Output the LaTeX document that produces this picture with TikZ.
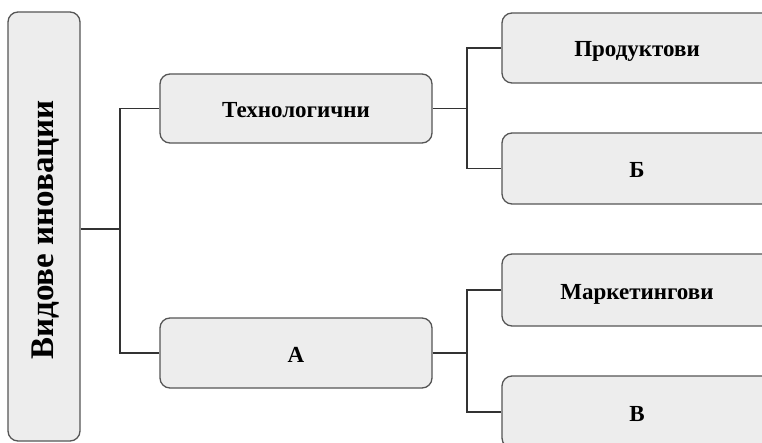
\documentclass[tikz,border=0pt]{standalone}
\usepackage{fontspec}
\setmainfont{Liberation Serif}
\begin{document}
\begin{tikzpicture}[x=1pt,y=-1pt,
  box/.style={draw=boxline, fill=boxfill, line width=1.3pt, rounded corners=10pt, inner sep=0pt, text height=18pt, text depth=0pt, font=\bfseries\fontsize{23}{26}\selectfont},
  conn/.style={draw=connline, line width=1.2pt}]
\definecolor{boxfill}{HTML}{EDEDED}
\definecolor{boxline}{HTML}{555555}
\definecolor{connline}{HTML}{333333}
\useasboundingbox (0,0) rectangle (762,443);
\clip (0,0) rectangle (762,443);
\fill[white] (0,0) rectangle (762,443);
% left box
\node[box, minimum width=72pt, minimum height=429pt] (root) at (44,226.5) {};
\node[rotate=90, font=\bfseries\fontsize{33}{36}\selectfont, anchor=center] (roottext) at (46,230) {Видове иновации};
% second level
\node[box, minimum width=272pt, minimum height=69pt] (tech) at (296,108.5) {Технологични};
\node[box, minimum width=272pt, minimum height=70pt] (a) at (296,353) {А};
% third level
\node[box, minimum width=270pt, minimum height=70pt] (prod) at (637,48) {Продуктови};
\node[box, minimum width=270pt, minimum height=71pt] (b) at (637,168.5) {Б};
\node[box, minimum width=270pt, minimum height=72pt] (mark) at (637,290) {Маркетингови};
\node[box, minimum width=270pt, minimum height=72pt] (v) at (637,412) {В};
% connectors
\coordinate (j1) at (120,229);
\draw[conn] (root.east |- j1) -- (j1);
\draw[conn] (tech.west) -| (j1) |- (a.west);
\coordinate (j2) at (467,108.5);
\coordinate (j3) at (467,353);
\draw[conn] (tech.east) -- (j2);
\draw[conn] (prod.west) -| (j2) |- (b.west);
\draw[conn] (a.east) -- (j3);
\draw[conn] (mark.west) -| (j3) |- (v.west);
\end{tikzpicture}
\end{document}
